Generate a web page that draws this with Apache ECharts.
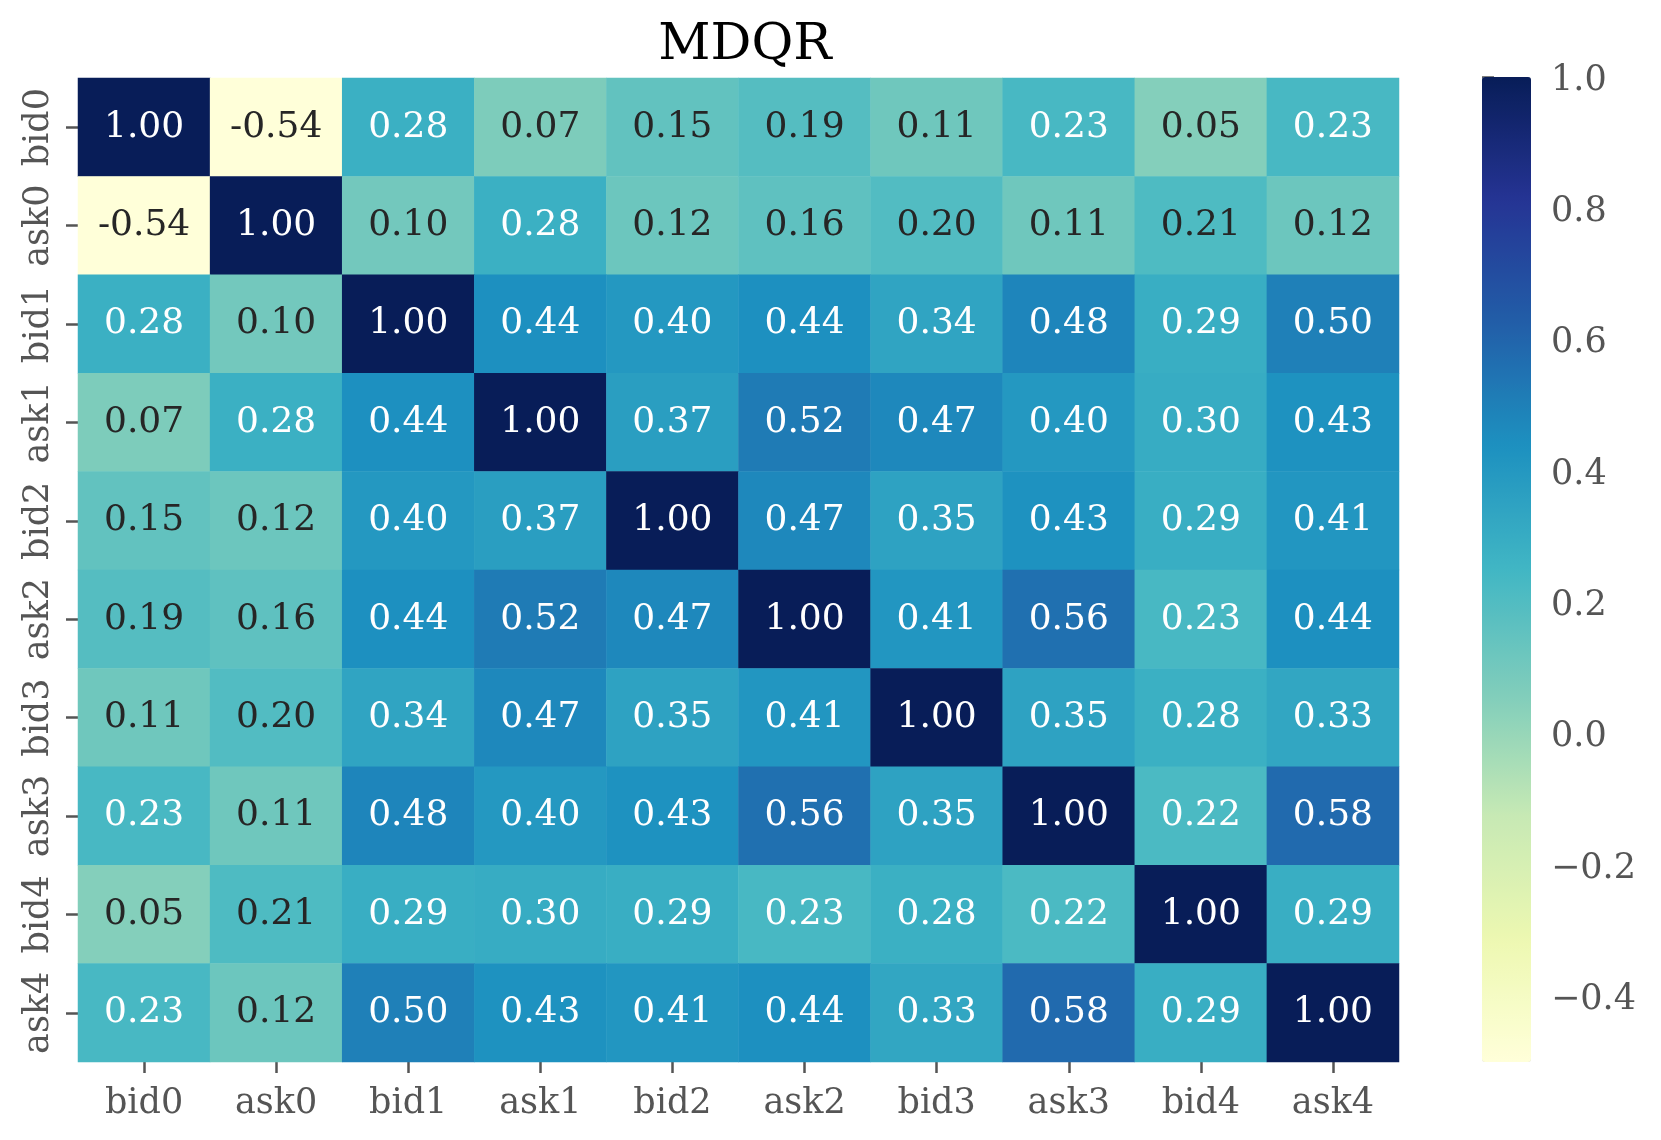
<!DOCTYPE html>
<html>
<head>
<meta charset="utf-8">
<script src="https://cdn.jsdelivr.net/npm/echarts@6/dist/echarts.min.js"></script>
<style>html,body{margin:0;padding:0;background:#fff;}#chart{width:1661px;height:1140px;}</style>
</head>
<body>
<div id="chart"></div>
<script>
// ---- data ----
const titleText = 'MDQR';
const labels = ['bid0','ask0','bid1','ask1','bid2','ask2','bid3','ask3','bid4','ask4'];
const row_bid0 = [1.00, -0.54, 0.28, 0.07, 0.15, 0.19, 0.11, 0.23, 0.05, 0.23];
const row_ask0 = [-0.54, 1.00, 0.10, 0.28, 0.12, 0.16, 0.20, 0.11, 0.21, 0.12];
const row_bid1 = [0.28, 0.10, 1.00, 0.44, 0.40, 0.44, 0.34, 0.48, 0.29, 0.50];
const row_ask1 = [0.07, 0.28, 0.44, 1.00, 0.37, 0.52, 0.47, 0.40, 0.30, 0.43];
const row_bid2 = [0.15, 0.12, 0.40, 0.37, 1.00, 0.47, 0.35, 0.43, 0.29, 0.41];
const row_ask2 = [0.19, 0.16, 0.44, 0.52, 0.47, 1.00, 0.41, 0.56, 0.23, 0.44];
const row_bid3 = [0.11, 0.20, 0.34, 0.47, 0.35, 0.41, 1.00, 0.35, 0.28, 0.33];
const row_ask3 = [0.23, 0.11, 0.48, 0.40, 0.43, 0.56, 0.35, 1.00, 0.22, 0.58];
const row_bid4 = [0.05, 0.21, 0.29, 0.30, 0.29, 0.23, 0.28, 0.22, 1.00, 0.29];
const row_ask4 = [0.23, 0.12, 0.50, 0.43, 0.41, 0.44, 0.33, 0.58, 0.29, 1.00];
const colorbarMin = -0.5;
const colorbarMax = 1.0;
const colorbarTicks = [-0.4, -0.2, 0.0, 0.2, 0.4, 0.6, 0.8, 1.0];

const rows = [row_bid0,row_ask0,row_bid1,row_ask1,row_bid2,row_ask2,row_bid3,row_ask3,row_bid4,row_ask4];
const YlGnBu = ['#ffffd9','#edf8b1','#c7e9b4','#7fcdbb','#41b6c4','#1d91c0','#225ea8','#253494','#081d58'];

function hex2rgb(h){return [parseInt(h.slice(1,3),16),parseInt(h.slice(3,5),16),parseInt(h.slice(5,7),16)];}
function cmap(v){
  let t = (v - colorbarMin)/(colorbarMax - colorbarMin);
  t = Math.max(0, Math.min(1, t));
  const p = t*(YlGnBu.length-1);
  const i = Math.min(Math.floor(p), YlGnBu.length-2);
  const f = p - i;
  const a = hex2rgb(YlGnBu[i]), b = hex2rgb(YlGnBu[i+1]);
  return a.map((c,k)=>c+(b[k]-c)*f);
}
function luminance(rgb){
  const c = rgb.map(x=>{x/=255; return x<=0.03928? x/12.92 : Math.pow((x+0.055)/1.055,2.4);});
  return 0.2126*c[0]+0.7152*c[1]+0.0722*c[2];
}

const heatData = [];
rows.forEach((r, yi) => r.forEach((v, xi) => {
  const dark = luminance(cmap(v)) > 0.408;
  heatData.push({value:[xi, yi, v], label:{color: dark ? '#262626' : '#ffffff'}});
}));

const FONT = 'DejaVu Serif';
const chart = echarts.init(document.getElementById('chart'));
chart.setOption({
  backgroundColor:'#ffffff',
  animation:false,
  title:{text:titleText, left:740, textAlign:'center', top:15,
    textStyle:{fontFamily:FONT, fontSize:51, fontWeight:'normal', color:'#000'}},
  grid:[
    {left:78, top:78, width:1321, height:984},
    {left:1482, top:77, width:49, height:985}
  ],
  xAxis:[
    {type:'category', data:labels, gridIndex:0, position:'bottom',
      axisLine:{show:false}, splitLine:{show:false},
      axisTick:{show:true, alignWithLabel:true, interval:0, length:11, lineStyle:{color:'#555', width:2.5}},
      axisLabel:{fontFamily:FONT, fontSize:35, color:'#555', margin:24, interval:0}},
    {type:'value', gridIndex:1, show:false, min:0, max:1}
  ],
  yAxis:[
    {type:'category', data:labels, gridIndex:0, inverse:true, position:'left',
      axisLine:{show:false}, splitLine:{show:false},
      axisTick:{show:true, alignWithLabel:true, interval:0, length:12, lineStyle:{color:'#555', width:2.5}},
      axisLabel:{fontFamily:FONT, fontSize:35, color:'#555', rotate:90, margin:22, interval:0}},
    {type:'value', gridIndex:1, position:'right', min:colorbarMin, max:colorbarMax,
      axisLine:{show:false}, splitLine:{show:false},
      axisTick:{show:true, length:12, customValues:colorbarTicks, lineStyle:{color:'#555', width:2.5}},
      axisLabel:{fontFamily:FONT, fontSize:35, color:'#555', margin:20, customValues:colorbarTicks,
        formatter:v => '{a|' + (v < 0 ? '\u2212' : '') + Math.abs(v).toFixed(1) + '}',
        rich:{a:{fontFamily:FONT, fontSize:35, color:'#555', padding:[7,0,0,0]}}}}
  ],
  visualMap:{type:'continuous', min:colorbarMin, max:colorbarMax, seriesIndex:0,
    left:1482, top:77, itemWidth:49, itemHeight:985, padding:0,
    calculable:false, orient:'vertical', text:null, showLabel:false,
    inRange:{color:YlGnBu}},
  series:[
    {type:'heatmap', xAxisIndex:0, yAxisIndex:0, data:heatData,
      label:{show:true, fontFamily:FONT, fontSize:36,
        formatter:p => p.value[2].toFixed(2)},
      emphasis:{disabled:true}},
    {type:'scatter', xAxisIndex:1, yAxisIndex:1, data:[], silent:true}
  ]
});
</script>
</body>
</html>
